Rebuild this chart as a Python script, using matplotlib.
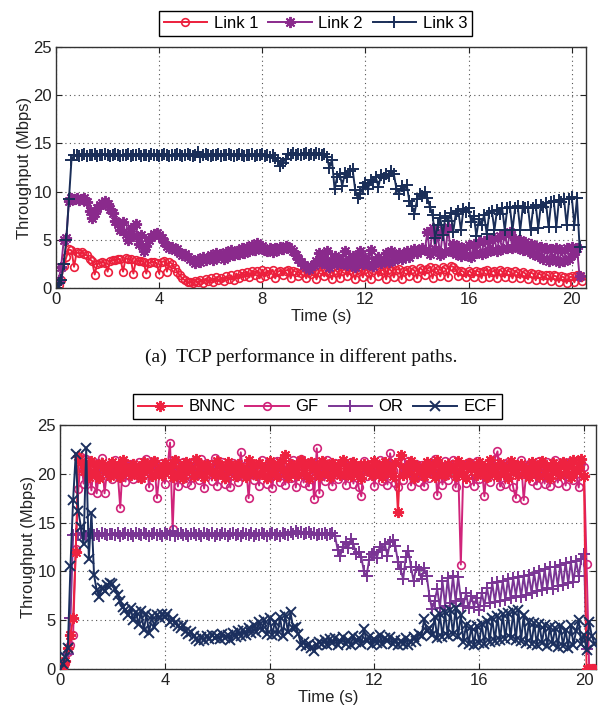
import numpy as np
import matplotlib
matplotlib.use("Agg")
import matplotlib.pyplot as plt

nan = float("nan")

# time axis (s), sampled every 0.1 s from 0 to 20.4
time_s = np.round(np.arange(0, 20.45, 0.1), 1)

# ---------------- (a) TCP performance in different paths ----------------
link1 = [
    0.0, 0.3, 0.8, 2.3, 3.2, 4.0, 3.9, 2.2, 3.7, 3.6,
    3.7, 3.5, 3.4, 3.0, 2.8, 1.4, 2.5, 2.6, 2.7, 2.6,
    1.7, 2.8, 2.9, 2.9, 3.0, 3.0, 1.7, 3.1, 3.0, 3.0,
    1.5, 2.9, 2.8, 2.8, 2.7, 1.5, 2.6, 2.7, 2.7, 2.6,
    1.5, 2.7, 2.8, 1.7, 2.7, 2.5, 2.1, 1.7, 1.3, 1.0,
    0.8, 0.6, 0.6, 0.5, 0.7, 0.6, 0.8, 0.5, 0.9, 0.7,
    1.0, 0.6, 1.1, 0.8, 1.0, 0.7, 1.2, 0.9, 1.3, 0.8,
    1.5, 1.0, 1.6, 1.2, 1.7, 1.1, 1.8, 1.3, 1.8, 1.0,
    1.9, 1.2, 1.8, 1.5, 1.9, 1.0, 1.7, 1.8, 1.3, 1.8,
    1.9, 1.0, 1.8, 1.7, 1.2, 1.6, 1.8, 1.0, 1.7, 1.5,
    1.8, 0.9, 1.7, 1.9, 1.2, 1.8, 1.6, 0.9, 1.9, 1.7,
    1.0, 1.8, 2.0, 1.2, 1.9, 1.7, 0.9, 2.0, 1.8, 1.1,
    2.0, 1.7, 0.9, 1.9, 2.1, 1.2, 1.8, 1.9, 0.9, 2.0,
    1.8, 1.1, 1.9, 2.0, 0.9, 1.8, 1.9, 1.2, 2.0, 1.8,
    1.0, 2.1, 1.9, 1.3, 2.0, 2.2, 1.0, 2.1, 1.9, 1.2,
    2.2, 2.0, 1.1, 2.3, 2.2, 1.9, 1.2, 1.8, 1.7, 1.1,
    1.8, 1.6, 1.1, 1.8, 1.7, 1.0, 1.8, 1.9, 1.1, 1.7,
    1.8, 1.0, 1.9, 1.7, 1.1, 1.8, 1.7, 1.0, 1.8, 1.6,
    1.0, 1.7, 1.5, 0.9, 1.6, 1.5, 0.8, 1.5, 1.4, 0.8,
    1.4, 1.3, 0.7, 1.3, 1.2, 0.6, 1.2, 1.1, 0.5, 1.1,
    1.2, 0.6, 1.3, 1.2, 0.7,
]

link2 = [
    0.0, 0.8, 2.2, 5.0, 5.2, 9.0, 9.3, 9.2, 9.3, 9.1,
    9.2, 9.3, 8.9, 8.0, 7.3, 7.8, 8.3, 8.6, 8.8, 9.0,
    8.7, 8.2, 7.8, 7.0, 6.6, 6.0, 6.8, 5.6, 5.0, 6.2,
    5.4, 6.6, 4.6, 5.5, 3.8, 4.4, 5.0, 5.3, 5.6, 5.7,
    5.5, 5.2, 4.8, 4.4, 4.1, 4.3, 3.9, 4.0, 3.6, 3.4,
    3.5, 3.2, 3.0, 2.8, 2.6, 3.0, 2.7, 3.2, 2.9, 3.1,
    3.4, 2.9, 3.6, 3.2, 3.5, 3.0, 3.7, 3.3, 3.9, 3.4,
    3.8, 3.5, 4.1, 3.6, 4.3, 3.8, 4.5, 3.9, 4.7, 4.2,
    4.4, 3.9, 3.8, 4.1, 3.7, 4.2, 3.9, 4.3, 4.0, 4.4,
    4.3, 4.0, 3.8, 3.4, 3.0, 2.7, 2.4, 2.2, 2.0, 2.3,
    2.4, 2.8, 3.6, 2.6, 3.0, 3.8, 2.2, 2.8, 3.3, 2.5,
    3.0, 2.6, 3.8, 2.4, 2.9, 3.3, 2.2, 2.8, 3.8, 2.5,
    3.1, 2.5, 3.9, 2.3, 2.9, 3.2, 2.6, 3.0, 3.6, 2.7,
    3.8, 2.9, 3.3, 3.6, 3.0, 3.5, 3.8, 3.2, 3.7, 4.0,
    3.6, 3.9, 4.2, 3.9, 5.8, 3.5, 6.2, 4.0, 5.5, 3.4,
    6.0, 3.7, 6.3, 3.8, 4.6, 3.5, 4.4, 3.3, 4.2, 3.4,
    4.5, 3.2, 4.6, 3.6, 4.8, 3.5, 4.9, 3.7, 5.0, 3.9,
    5.2, 3.8, 5.4, 4.0, 5.6, 4.2, 5.8, 4.1, 5.1, 4.2,
    5.0, 3.9, 4.8, 3.8, 4.6, 3.5, 4.4, 3.3, 4.3, 3.0,
    4.2, 2.8, 4.0, 3.0, 4.1, 2.7, 3.9, 2.8, 4.2, 3.0,
    4.3, 3.5, 4.2, 1.2, nan,
]

link3 = [
    0.0, 0.5, 0.8, 2.5, 5.0, 9.2, 13.3, 13.8, 13.8, 13.7,
    13.8, 13.9, 13.7, 13.8, 13.8, 13.9, 13.7, 13.8, 13.8, 13.9,
    13.8, 13.7, 13.8, 13.9, 13.8, 13.7, 13.8, 13.8, 13.9, 13.7,
    13.8, 13.8, 13.9, 13.7, 13.8, 13.8, 13.7, 13.9, 13.8, 13.8,
    13.7, 13.8, 13.9, 13.8, 13.7, 13.8, 13.8, 13.9, 13.8, 13.7,
    13.8, 13.9, 13.8, 13.7, 13.8, 14.1, 13.6, 13.8, 13.9, 13.8,
    13.7, 13.8, 13.8, 13.9, 13.7, 13.8, 13.8, 13.9, 13.8, 13.7,
    13.8, 13.9, 13.8, 13.7, 13.8, 13.8, 13.9, 13.7, 13.8, 13.8,
    13.9, 13.7, 13.8, 13.6, 13.8, 13.5, 13.2, 12.7, 13.0, 13.4,
    13.9, 13.8, 14.0, 13.8, 13.9, 13.8, 13.9, 14.0, 13.8, 13.9,
    13.8, 14.0, 13.9, 13.8, 13.9, 13.6, 12.5, 13.3, 10.3, 11.5,
    11.8, 10.6, 11.9, 11.5, 12.1, 12.3, 10.2, 9.3, 9.8, 10.5,
    10.9, 10.3, 11.2, 11.0, 11.5, 10.5, 11.7, 11.4, 11.8, 11.6,
    12.1, 11.8, 10.3, 9.8, 10.6, 10.2, 10.7, 9.0, 8.5, 7.7,
    9.2, 9.8, 9.5, 10.0, 9.3, 8.4, 7.6, 5.2, 6.5, 7.3,
    5.5, 7.5, 6.9, 7.8, 5.8, 7.7, 8.0, 6.0, 8.2, 7.9,
    8.3, 6.8, 7.5, 5.4, 7.2, 6.5, 7.6, 5.6, 7.8, 8.0,
    6.0, 8.1, 7.7, 8.3, 6.0, 8.3, 8.4, 6.0, 8.3, 8.5,
    6.0, 8.4, 8.3, 8.4, 6.0, 8.3, 8.6, 6.2, 8.6, 8.4,
    8.8, 6.3, 8.9, 9.0, 6.3, 9.1, 8.9, 9.2, 6.5, 9.2,
    9.4, 6.5, 9.3, 4.3, nan,
]

# ---------------- (b) schemes ----------------
bnnc = [
    0.0, 0.3, 0.8, 2.2, 3.5, 5.2, 12.0, 21.8, 21.2, 20.3,
    20.8, 19.7, 21.3, 20.2, 20.9, 19.6, 21.1, 20.4, 20.7, 19.8,
    21.2, 20.1, 20.8, 19.7, 21.4, 20.3, 20.6, 19.9, 21.0, 20.2,
    20.7, 19.6, 21.2, 20.4, 20.9, 19.8, 21.3, 20.1, 20.6, 19.9,
    21.1, 20.3, 20.7, 19.7, 21.4, 20.0, 20.8, 19.6, 21.2, 20.4,
    20.6, 19.8, 21.5, 20.2, 20.9, 19.7, 21.0, 20.5, 20.3, 19.9,
    21.3, 20.1, 20.7, 19.6, 21.2, 20.4, 20.8, 19.8, 21.0, 20.2,
    20.6, 19.7, 21.4, 20.3, 20.9, 19.9, 21.1, 20.0, 20.7, 19.6,
    21.3, 20.2, 20.8, 19.8, 21.2, 20.4, 21.9, 19.7, 21.0, 20.3,
    20.7, 19.9, 21.4, 20.1, 20.9, 19.6, 21.2, 20.5, 20.6, 19.8,
    21.3, 20.2, 20.8, 19.7, 21.1, 20.4, 20.9, 19.9, 21.4, 20.0,
    20.6, 19.8, 21.2, 20.3, 20.8, 19.6, 21.0, 20.4, 20.7, 19.9,
    21.3, 20.1, 20.8, 19.7, 21.2, 20.3, 20.6, 19.8, 21.1, 16.1,
    21.9, 19.9, 20.7, 20.2, 21.3, 19.6, 20.9, 20.4, 20.6, 19.8,
    21.2, 20.3, 20.8, 19.7, 21.4, 20.1, 20.7, 19.9, 21.0, 20.4,
    20.6, 19.8, 21.3, 20.2, 20.9, 19.6, 21.1, 20.5, 20.7, 19.9,
    21.2, 20.1, 20.8, 19.7, 21.4, 20.3, 20.6, 19.8, 21.1, 20.2,
    20.7, 19.6, 21.3, 20.4, 20.9, 19.9, 21.0, 20.1, 20.6, 19.7,
    21.2, 20.3, 20.8, 19.8, 21.3, 20.0, 20.7, 19.6, 21.1, 20.4,
    20.6, 19.9, 21.2, 20.2, 20.8, 19.7, 21.4, 20.3, 20.7, 21.5,
    19.8, 0.0, 0.0, 0.0, 0.0,
]

gf = [
    0.0, 0.3, 0.6, 1.7, 2.5, 3.5, 12.3, 18.4, 21.7, 19.0,
    21.5, 20.0, 18.3, 21.2, 18.0, 20.5, 21.6, 18.0, 20.3, 21.0,
    19.5, 21.4, 20.2, 16.5, 21.3, 19.2, 20.8, 21.0, 19.5, 20.4,
    21.2, 19.6, 20.3, 21.5, 18.6, 20.8, 21.3, 17.5, 20.1, 21.1,
    19.0, 20.6, 23.2, 14.3, 21.4, 18.7, 20.5, 21.2, 19.1, 20.6,
    18.9, 21.3, 20.2, 19.4, 21.5, 18.5, 20.4, 21.0, 19.3, 21.6,
    18.8, 20.3, 21.2, 19.0, 20.8, 18.6, 21.1, 20.0, 19.2, 22.2,
    19.8, 20.9, 17.5, 21.0, 19.4, 20.6, 18.8, 21.4, 20.1, 19.0,
    21.2, 18.5, 20.7, 21.3, 19.2, 20.4, 18.9, 21.0, 19.6, 21.4,
    18.6, 20.8, 21.5, 19.1, 20.3, 18.7, 21.2, 17.4, 22.6, 18.0,
    20.9, 19.3, 21.4, 20.0, 18.8, 21.1, 19.5, 20.6, 21.3, 18.9,
    20.4, 21.2, 19.0, 20.7, 18.6, 17.7, 21.3, 19.8, 20.5, 21.0,
    18.7, 20.8, 21.4, 19.3, 20.2, 18.9, 22.1, 20.4, 19.1, 18.6,
    21.2, 19.4, 20.7, 21.3, 18.8, 20.3, 21.0, 19.2, 20.9, 18.7,
    21.1, 19.6, 20.4, 21.5, 17.8, 20.2, 18.9, 21.3, 19.4, 20.8,
    21.4, 18.6, 20.5, 10.7, 20.9, 19.1, 21.2, 20.0, 18.8, 21.3,
    19.5, 20.6, 17.7, 21.0, 19.2, 20.4, 21.5, 22.3, 18.7, 20.8,
    19.0, 21.2, 20.3, 18.6, 17.5, 20.7, 21.4, 17.3, 20.2, 21.0,
    19.3, 20.6, 18.9, 21.3, 20.1, 19.0, 21.2, 18.7, 20.5, 21.4,
    19.1, 20.3, 21.2, 18.8, 20.6, 21.3, 19.4, 20.0, 18.6, 21.1,
    20.7, 10.8, 0.0, 0.0, 0.0,
]

orr = [
    0.0, 0.3, 0.7, 1.5, 5.2, 13.7, 13.8, 13.7, 13.9, 13.8,
    13.6, 13.8, 13.9, 13.7, 13.8, 13.6, 13.9, 13.8, 13.7, 13.8,
    13.8, 13.7, 13.9, 13.6, 13.8, 13.9, 13.7, 13.8, 13.6, 13.9,
    13.8, 13.7, 13.9, 13.8, 13.6, 13.8, 13.9, 13.7, 13.8, 13.6,
    13.9, 13.8, 13.7, 14.1, 13.6, 13.8, 13.9, 13.7, 13.8, 13.6,
    13.8, 13.9, 13.7, 13.8, 13.6, 13.9, 13.8, 13.7, 13.9, 13.6,
    13.8, 13.7, 13.9, 13.8, 13.6, 13.8, 13.9, 13.7, 13.8, 13.6,
    13.9, 13.8, 13.7, 13.9, 13.6, 13.8, 13.7, 13.9, 13.8, 13.6,
    13.8, 13.9, 13.7, 13.8, 13.6, 13.9, 13.8, 13.7, 14.0, 13.8,
    14.1, 13.9, 14.0, 13.8, 13.9, 14.0, 13.8, 13.9, 13.7, 13.8,
    13.8, 13.9, 13.7, 13.8, 13.9, 13.6, 12.2, 11.6, 12.5, 13.0,
    12.4, 13.3, 12.8, 11.8, 12.0, 11.5, 10.0, 9.5, 11.2, 11.8,
    12.0, 11.4, 12.5, 12.2, 12.8, 11.6, 13.0, 13.2, 12.6, 11.0,
    10.2, 9.2, 11.5, 12.1, 10.4, 9.0, 10.5, 10.1, 9.2, 10.3,
    9.5, 7.5, 6.1, 7.0, 8.2, 6.3, 9.0, 6.5, 9.3, 6.8,
    9.5, 7.0, 9.4, 7.2, 6.5, 7.8, 6.2, 7.5, 6.4, 7.3,
    6.0, 7.8, 6.5, 8.3, 6.8, 8.8, 6.9, 8.9, 7.0, 9.0,
    7.1, 9.2, 7.3, 9.3, 7.5, 9.4, 7.4, 9.5, 7.6, 9.6,
    7.8, 9.8, 8.0, 10.0, 8.1, 10.2, 8.3, 10.4, 8.2, 10.5,
    8.5, 10.7, 8.6, 10.9, 8.8, 11.0, 8.9, 11.1, 9.5, 11.3,
    11.8, 2.0, nan, nan, nan,
]

ecf = [
    0.0, 0.5, 1.2, 2.2, 10.6, 17.3, 22.0, 16.2, 14.5, 12.8,
    22.6, 11.3, 16.0, 9.6, 8.1, 7.4, 8.3, 8.0, 8.6, 8.8,
    8.7, 8.2, 7.6, 7.0, 6.4, 6.0, 5.5, 6.2, 5.0, 5.8,
    4.6, 5.9, 4.0, 5.6, 3.7, 5.4, 4.3, 5.5, 5.2, 5.6,
    5.3, 5.6, 4.8, 5.1, 4.7, 4.4, 4.2, 4.5, 3.9, 3.6,
    3.8, 3.4, 3.1, 2.9, 3.3, 3.0, 3.4, 3.1, 3.5, 3.2,
    3.4, 3.1, 3.6, 3.2, 3.5, 3.0, 3.7, 3.3, 3.9, 3.4,
    4.0, 3.5, 4.2, 3.7, 4.5, 3.8, 4.8, 4.0, 5.0, 3.6,
    5.2, 3.5, 4.8, 3.6, 5.3, 3.4, 5.5, 3.8, 5.8, 4.2,
    4.3, 3.6, 2.5, 2.8, 2.4, 2.6, 2.2, 1.8, 2.5, 2.8,
    2.6, 3.0, 2.5, 3.1, 2.7, 3.2, 2.5, 2.9, 3.3, 2.6,
    3.0, 2.5, 3.4, 2.8, 3.2, 2.6, 4.1, 2.9, 3.3, 2.5,
    3.1, 2.7, 3.5, 2.6, 3.2, 2.9, 3.3, 2.6, 3.0, 2.5,
    2.9, 2.6, 3.2, 2.5, 2.8, 3.3, 2.9, 3.6, 3.4, 5.1,
    3.9, 4.2, 3.5, 5.3, 3.2, 5.6, 3.3, 5.8, 3.4, 6.0,
    3.6, 6.2, 3.4, 5.5, 2.8, 4.5, 2.6, 4.3, 2.5, 4.4,
    2.7, 4.6, 2.6, 4.9, 2.8, 5.2, 2.9, 5.4, 3.0, 5.6,
    3.1, 5.7, 3.2, 5.9, 3.0, 6.0, 2.9, 5.5, 2.7, 4.8,
    2.6, 4.7, 2.5, 4.6, 2.7, 4.5, 2.4, 4.3, 2.6, 4.2,
    2.3, 4.4, 2.4, 4.0, 2.2, 4.5, 2.5, 3.9, 5.0, 2.6,
    3.5, 1.9, 4.8, 3.4, 2.6,
]

top_labels = ["Link 1", "Link 2", "Link 3"]
bottom_labels = ["BNNC", "GF", "OR", "ECF"]
x_ticks = [0, 4, 8, 12, 16, 20]
y_ticks = [0, 5, 10, 15, 20, 25]
caption = "(a)  TCP performance in different paths."

plt.rcParams["font.family"] = ["Liberation Sans", "DejaVu Sans"]

W, H = 598, 713
fig = plt.figure(figsize=(W / 100, H / 100), dpi=100)

ast = (8, 2, 0)

def style_axes(ax, xmax):
    ax.set_xlim(0, xmax)
    ax.set_ylim(0, 25)
    ax.set_xticks(x_ticks)
    ax.set_yticks(y_ticks)
    ax.tick_params(direction="in", top=True, right=True, length=4,
                   labelsize=12, colors="#222222", width=0.8, pad=3)
    ax.grid(True, linestyle=(0, (1, 3)), color="#555555", linewidth=0.8)
    for s in ax.spines.values():
        s.set_color("#333333")
        s.set_linewidth(1.0)
    ax.set_xlabel("Time (s)", fontsize=12, labelpad=1, color="#222222")
    ax.set_ylabel("Throughput (Mbps)", fontsize=12, labelpad=1, color="#222222")

# ---- top axes ----
ax1 = fig.add_axes([56 / W, 1 - 288 / H, (586 - 56) / W, (288 - 47) / H])
ax1.plot(time_s, link1, color="#EC1F3C", marker="o", ms=5.5, mfc="none", mew=1.2,
         lw=1.4, label=top_labels[0])
ax1.plot(time_s, link2, color="#8A2A8C", marker=ast, ms=8, mew=1.4,
         lw=1.4, label=top_labels[1])
ax1.plot(time_s, link3, color="#1A2E58", marker="+", ms=9, mew=1.4,
         lw=1.4, label=top_labels[2])
style_axes(ax1, 20.55)
leg1 = ax1.legend(loc="center", bbox_to_anchor=(315.5 / W, 1 - 23.5 / H),
                  bbox_transform=fig.transFigure, ncol=3, fontsize=12,
                  frameon=True, fancybox=False, edgecolor="black", framealpha=1,
                  handlelength=2.6, handletextpad=0.4, columnspacing=0.6,
                  borderpad=0.3, borderaxespad=0)
leg1.get_frame().set_linewidth(1.0)

fig.text(301 / W, 1 - 357 / H, caption, ha="center", va="center",
         fontsize=14, family=["Liberation Serif", "DejaVu Serif"], color="#111111")

# ---- bottom axes ----
ax2 = fig.add_axes([60 / W, 1 - 669 / H, (596 - 60) / W, (669 - 425) / H])
l_b, = ax2.plot(time_s, bnnc, color="#EE2240", marker=ast, ms=8, mew=1.4,
                lw=1.4, label=bottom_labels[0], zorder=4)
l_g, = ax2.plot(time_s, gf, color="#D0247A", marker="o", ms=5.5, mfc="none", mew=1.2,
                lw=1.4, label=bottom_labels[1], zorder=3)
l_o, = ax2.plot(time_s, orr, color="#7A3594", marker="+", ms=9, mew=1.4,
                lw=1.4, label=bottom_labels[2], zorder=3)
l_e, = ax2.plot(time_s, ecf, color="#1B2F5E", marker="x", ms=6.5, mew=1.4,
                lw=1.4, label=bottom_labels[3], zorder=5)
style_axes(ax2, 20.46)
leg2 = ax2.legend(handles=[l_b, l_g, l_o, l_e],
                  loc="center", bbox_to_anchor=(317.5 / W, 1 - 407 / H),
                  bbox_transform=fig.transFigure, ncol=4, fontsize=12,
                  frameon=True, fancybox=False, edgecolor="black", framealpha=1,
                  handlelength=2.6, handletextpad=0.4, columnspacing=0.6,
                  borderpad=0.3, borderaxespad=0)
leg2.get_frame().set_linewidth(1.0)

fig.savefig("out.png", dpi=100)
